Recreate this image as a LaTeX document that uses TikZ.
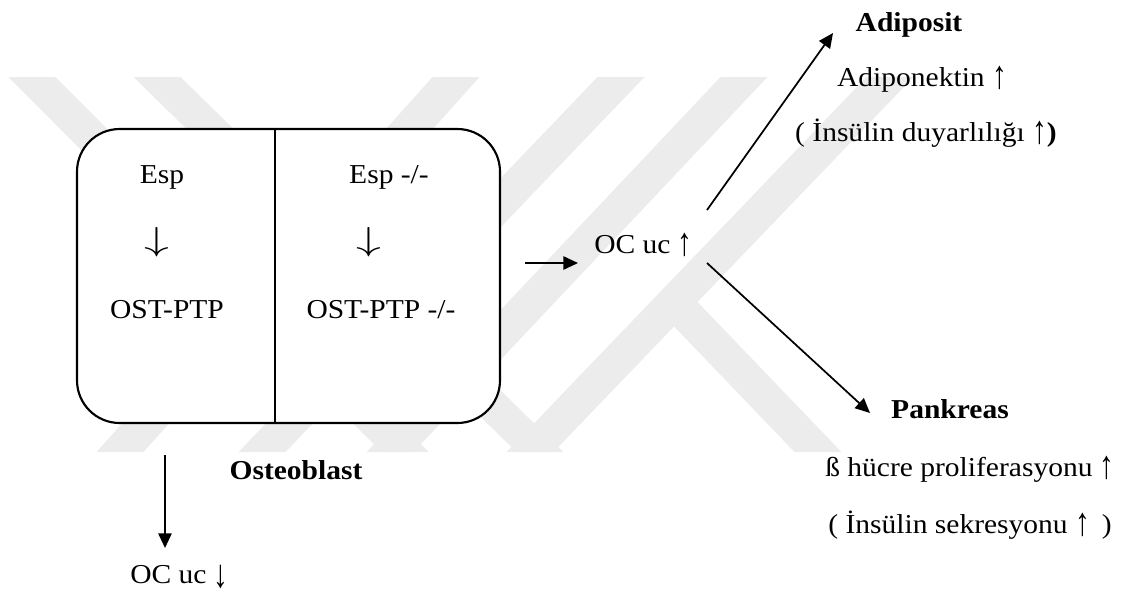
\documentclass[tikz,border=0pt]{standalone}
\usepackage{fontspec}
\usepackage{graphicx}
\setmainfont{Liberation Serif}[FakeStretch=1.08]
\usetikzlibrary{arrows.meta}
\definecolor{wmGray}{RGB}{236,236,236}
\definecolor{inkBlack}{RGB}{0,0,0}
\newcommand{\upar}{\raisebox{-0.1em}{\scalebox{1}[1.45]{↑}}}
\newcommand{\dnar}{\raisebox{-0.15em}{\scalebox{1}[1.45]{↓}}}
\tikzset{
  wmband/.style={fill=wmGray,draw=none},
  lbl/.style={inner sep=0pt,anchor=base,text=inkBlack,font=\fontsize{20.5}{24}\selectfont},
  hdr/.style={lbl,font=\fontsize{20.5}{24}\selectfont\bfseries},
  downsym/.style={inner sep=0pt,font=\fontsize{23}{23}\selectfont},
  flow/.style={line width=1.3pt,-{Triangle[length=11pt,width=10pt]}},
  cellbox/.style={line width=1.6pt,fill=white,rounded corners=32pt}
}

\begin{document}
\begin{tikzpicture}[x=0.75pt,y=-0.75pt]
\useasboundingbox (0,0) rectangle (1138,594);
% watermark
\foreach \t/\b in {32/405,157/540,456/120,621/262,744/390,890/530}
  \fill[wmband] (\t-23.5,77) -- (\t+23.5,77) -- (\b+23.5,452) -- (\b-23.5,452) -- cycle;
\fill[wmband] (662.3,314.2) -- (685.7,289.7) -- (841.5,452) -- (794.5,452) -- cycle;

\draw[cellbox] (77,129) rectangle (500,423);
\draw[line width=1.25pt] (275,129) -- (275,423);

\node[lbl] (esp) at (162,183) {Esp};
\node[downsym] (espDown) at (157,242) {\scalebox{1.5}[1]{$\downarrow$}};
\node[lbl] (ostptp) at (167,318) {OST-PTP};
\node[lbl] (espKo) at (389,183) {Esp -/-};
\node[downsym] (espKoDown) at (369,242) {\scalebox{1.5}[1]{$\downarrow$}};
\node[lbl] (ostptpKo) at (381,318) {OST-PTP -/-};
\node[hdr] (osteoblast) at (296,479) {Osteoblast};
\node[lbl,anchor=base west] (ocLow) at (130,583) {OC uc \dnar};

\node[lbl,anchor=base west] (ocHigh) at (594,253) {OC uc \upar};
\node[hdr] (adiposit) at (909,31) {Adiposit};
\node[lbl] (adipon) at (922,86) {Adiponektin \upar};
\node[lbl] (insSens) at (926,141) {( İnsülin duyarlılığı \upar\textbf{)}};
\node[hdr] (pankreas) at (950,418) {Pankreas};
\node[lbl] (betaCell) at (970,476) {ß hücre proliferasyonu \upar};
\node[lbl] (insSecr) at (970,533) {( İnsülin sekresyonu \upar\ \,)};

\coordinate (boxOut) at (525,263);
\coordinate (ocIn) at (578,263);
\coordinate (upFrom) at (707,210);
\coordinate (upTo) at (833,33);
\coordinate (dnFrom) at (707,263);
\coordinate (dnTo) at (870,413);
\coordinate (obFrom) at (165,455);
\coordinate (obTo) at (165,548);

\draw[flow] (boxOut) -- (ocIn);
\draw[flow] (upFrom) -- (upTo);
\draw[flow] (dnFrom) -- (dnTo);
\draw[flow] (obFrom) -- (obTo);
\end{tikzpicture}
\end{document}
